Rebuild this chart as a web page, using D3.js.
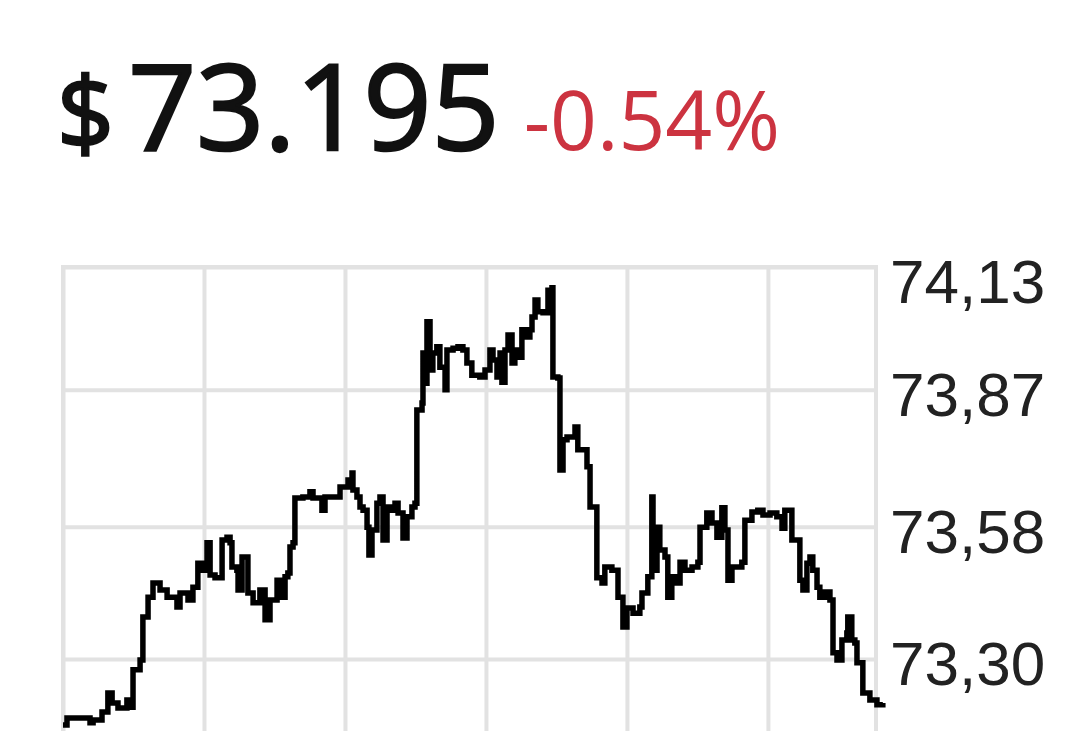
<!DOCTYPE html>
<html>
<head>
<meta charset="utf-8">
<script src="https://cdn.jsdelivr.net/npm/d3@7/dist/d3.min.js"></script>
<style>
  html, body { margin: 0; padding: 0; background: #ffffff; overflow: hidden; }
  svg { display: block; }
</style>
</head>
<body>
<svg id="chart" width="1080" height="731"></svg>
<script>
// ---- data ----
const currencySymbol = "$";
const lastPrice = "73.195";
const changePct = "-0.54%";

// minutes since session start
const times = [0, 1.7, 11.5, 12.8, 16.6, 19.1, 20.9, 23.4, 27.2, 28.5, 29.8, 32.8, 34.0, 36.2, 38.3, 41.3, 44.3, 48.5, 49.8, 53.2,
  55.3, 57.4, 59.6, 61.3, 62.6, 64.7, 66.8, 67.7, 69.8, 71.1, 71.9, 74.0, 74.5, 76.2, 78.3, 78.7, 80.9, 83.8, 86.0, 88.1,
  91.1, 92.3, 94.5, 95.7, 96.6, 97.9, 98.7, 102.1, 105.1, 106.4, 110.2, 111.5, 116.6, 117.9, 121.3, 123.0, 123.4, 125.1, 126.4, 127.7,
  129.4, 130.2, 131.5, 133.6, 134.9, 136.2, 137.9, 140.0, 141.3, 142.6, 144.7, 146.4, 148.5, 149.8, 150.6, 152.8, 153.2, 154.5, 154.9, 156.2,
  157.4, 159.1, 160.4, 162.6, 163.4, 166.0, 168.1, 170.2, 171.9, 174.0, 177.4, 179.6, 181.7, 183.0, 184.7, 186.0, 186.8, 188.1, 189.4, 191.1,
  192.3, 193.6, 195.3, 197.4, 198.7, 199.6, 200.9, 202.1, 204.3, 206.4, 208.1, 208.5, 210.6, 211.5, 212.8, 214.5, 216.6, 217.9, 219.1, 221.3,
  223.0, 224.3, 226.4, 227.2, 229.4, 230.6, 233.6, 236.2, 238.3, 240.0, 242.6, 245.5, 246.4, 248.5, 248.9, 250.6, 251.1, 252.8, 254.0, 256.2,
  257.4, 259.1, 261.3, 262.6, 264.7, 267.7, 270.2, 271.1, 274.0, 276.2, 278.3, 280.4, 281.7, 283.0, 284.7, 288.9, 290.2, 293.2, 295.7, 297.9,
  300.9, 303.8, 306.0, 307.2, 309.4, 310.2, 312.8, 313.6, 314.9, 316.6, 317.9, 319.1, 320.9, 322.1, 324.3, 326.4, 327.7, 329.4, 331.5, 333.6,
  334.0, 335.7, 337.0, 337.9, 340.0, 340.4, 343.4, 346.4, 348.9];

const prices = [73.160, 73.175, 73.165, 73.171, 73.188, 73.228, 73.207, 73.196, 73.213, 73.198, 73.277, 73.298, 73.389, 73.431, 73.461, 73.446, 73.431, 73.410, 73.440, 73.425,
  73.452, 73.503, 73.488, 73.546, 73.478, 73.472, 73.472, 73.552, 73.558, 73.546, 73.495, 73.488, 73.446, 73.516, 73.516, 73.440, 73.419, 73.446, 73.383, 73.425,
  73.467, 73.431, 73.474, 73.482, 73.537, 73.546, 73.641, 73.643, 73.654, 73.641, 73.615, 73.643, 73.643, 73.664, 73.679, 73.694, 73.658, 73.643, 73.622, 73.615,
  73.579, 73.520, 73.573, 73.630, 73.643, 73.552, 73.622, 73.615, 73.630, 73.609, 73.556, 73.601, 73.622, 73.630, 73.827, 73.842, 73.948, 73.884, 74.014, 73.912,
  73.948, 73.961, 73.918, 73.870, 73.954, 73.958, 73.961, 73.954, 73.927, 73.901, 73.897, 73.912, 73.954, 73.933, 73.897, 73.948, 73.886, 73.954, 73.986, 73.927,
  73.954, 73.939, 73.997, 73.982, 73.997, 74.024, 74.060, 74.035, 74.033, 74.081, 74.086, 73.897, 73.895, 73.700, 73.764, 73.770, 73.770, 73.791, 73.743, 73.743,
  73.707, 73.622, 73.622, 73.472, 73.461, 73.495, 73.488, 73.431, 73.368, 73.408, 73.397, 73.410, 73.440, 73.440, 73.474, 73.643, 73.488, 73.579, 73.531, 73.516,
  73.431, 73.474, 73.461, 73.505, 73.488, 73.495, 73.505, 73.579, 73.609, 73.588, 73.558, 73.620, 73.573, 73.467, 73.495, 73.505, 73.594, 73.611, 73.615, 73.605,
  73.609, 73.601, 73.577, 73.615, 73.615, 73.552, 73.552, 73.467, 73.446, 73.503, 73.516, 73.488, 73.452, 73.431, 73.442, 73.425, 73.313, 73.298, 73.340, 73.355,
  73.389, 73.340, 73.334, 73.292, 73.292, 73.228, 73.213, 73.203, 73.207];

const yTickValues = [74.13, 73.87, 73.58, 73.30];
const yTickLabels = ["74,13", "73,87", "73,58", "73,30"];
const hourTicks = [0, 60, 120, 180, 240, 300];
const sessionEnd = 346;

// ---- drawing ----
const svg = d3.select("#chart");
const plot = { left: 63, right: 876, top: 267, bottom: 760 };

const x = d3.scaleLinear().domain([0, sessionEnd]).range([plot.left, plot.right]);
const y = d3.scaleLinear().domain([73.30, 74.13]).range([659, plot.top]);

// Header
const header = svg.append("text")
  .attr("x", 57).attr("y", 150)
  .attr("font-family", "'Open Sans', 'Noto Sans', sans-serif")
  .attr("fill", "#111");
header.append("tspan").attr("font-size", 100).attr("stroke", "#111").attr("stroke-width", 2.5).text(currencySymbol);
header.append("tspan").attr("font-size", 119).attr("stroke", "#111").attr("stroke-width", 2.5).attr("dx", 14).text(lastPrice);
header.append("tspan").attr("font-size", 82).attr("dx", 24).attr("fill", "#cc3340").text(changePct);

const gridColor = "#e2e2e2";
const gridW = 4;

// vertical grid lines (time)
const xAxis = d3.axisBottom(x).tickValues(hourTicks).tickSize(-(plot.bottom - plot.top)).tickFormat("");
const gx = svg.append("g").attr("transform", `translate(0,${plot.bottom})`).call(xAxis);
gx.select(".domain").remove();
gx.selectAll(".tick line").attr("stroke", gridColor).attr("stroke-width", gridW);

// horizontal grid lines (price)
const yGrid = d3.axisLeft(y).tickValues(yTickValues).tickSize(-(plot.right - plot.left)).tickFormat("");
const gy = svg.append("g").attr("transform", `translate(${plot.left},0)`).call(yGrid);
gy.select(".domain").remove();
gy.selectAll(".tick line").attr("stroke", gridColor).attr("stroke-width", gridW);

// frame
svg.append("path")
  .attr("d", `M${plot.left},${plot.bottom}V${plot.top}H${plot.right}V${plot.bottom}`)
  .attr("fill", "none").attr("stroke", gridColor).attr("stroke-width", gridW);

// price labels
svg.append("g").selectAll("text")
  .data(yTickValues)
  .join("text")
  .attr("x", 890)
  .attr("y", d => Math.max(y(d) + 26, plot.top + 36))
  .attr("font-family", "'Liberation Sans', Arial, sans-serif")
  .attr("font-size", 62)
  .attr("fill", "#222")
  .text((d, i) => yTickLabels[i]);

// price line
const series = times.map((t, i) => ({ t, p: prices[i] }));
const line = d3.line().x(d => x(d.t)).y(d => y(d.p)).curve(d3.curveStepAfter);
svg.append("path")
  .datum(series)
  .attr("d", line)
  .attr("fill", "none")
  .attr("stroke", "#000")
  .attr("stroke-width", 5.5)
  .attr("stroke-linejoin", "miter");
</script>
</body>
</html>
